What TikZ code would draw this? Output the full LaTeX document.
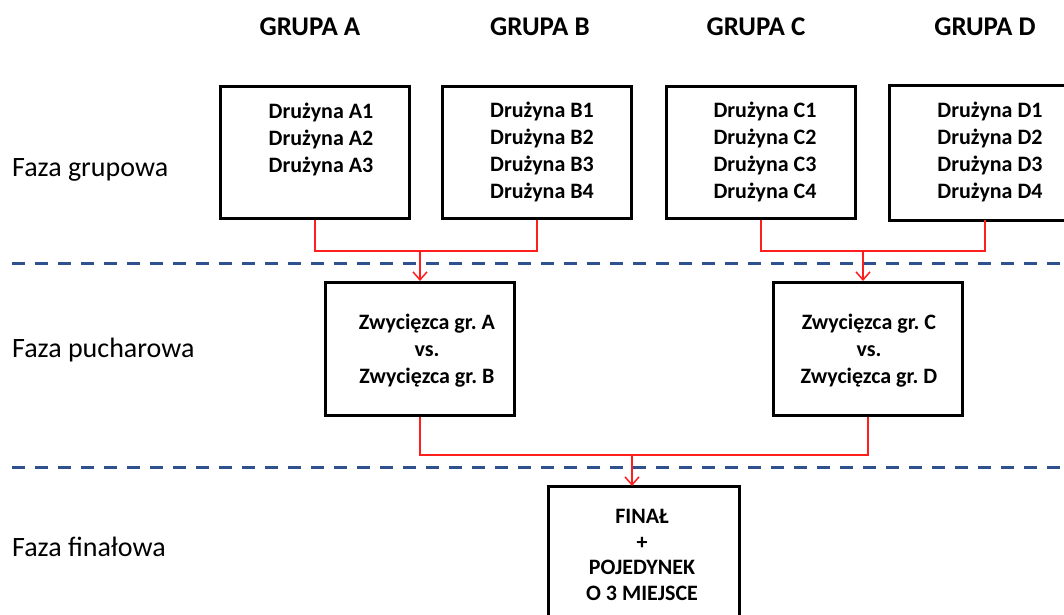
\documentclass[tikz,border=0pt]{standalone}
\usepackage{fontspec}
\setmainfont{Carlito}
\frenchspacing
\usetikzlibrary{arrows.meta}
\definecolor{dashblue}{RGB}{47,82,143}
\definecolor{linered}{RGB}{255,30,30}
\tikzset{
  box/.style={draw=black, line width=3pt, minimum width=189pt, minimum height=132pt, anchor=north west, inner sep=0pt},
  boxtext/.style={font=\bfseries\fontsize{22}{27}\selectfont, align=center, inner sep=0pt},
  header/.style={font=\bfseries\fontsize{27}{32}\selectfont, inner sep=0pt},
  phase/.style={font=\fontsize{28}{33}\selectfont, anchor=west, inner sep=0pt},
  sep/.style={draw=dashblue, line width=3pt, dash pattern=on 13pt off 10pt},
  conn/.style={draw=linered, line width=1.5pt},
  arr/.style={conn, -{Straight Barb[length=8pt,width=14pt,line width=1.5pt]}}
}
\begin{document}
\begin{tikzpicture}[x=1pt,y=-1pt]
\useasboundingbox (0,0) rectangle (1064,614);
\clip (0,0) rectangle (1064,614);
\fill[white] (0,0) rectangle (1064,614);
% headers
\node[header] (hA) at (310,27) {GRUPA A};
\node[header] (hB) at (540,27) {GRUPA B};
\node[header] (hC) at (756,27) {GRUPA C};
\node[header] (hD) at (985,27) {GRUPA D};
% phase labels
\node[phase] (p1) at (12,170) {Faza grupowa};
\node[phase] (p2) at (12,350) {Faza pucharowa};
\node[phase] (p3) at (12,547) {Faza finałowa};
% separators
\draw[sep] (12,263) -- (1064,263);
\draw[sep] (12,467) -- (1064,467);
% group boxes
\node[box] (A) at (219,85) {};
\node[box] (B) at (441,85) {};
\node[box] (C) at (665,85) {};
\node[box, draw=none] (D) at (889,85) {};
\draw[black, line width=3pt] ([xshift=20pt]D.north east) -- (D.north west) -- (D.south west) -- ([xshift=20pt]D.south east);
\node[boxtext] (tA) at (321,139) {Drużyna A1\\Drużyna A2\\Drużyna A3};
\node[boxtext] (tB) at (542,152) {Drużyna B1\\Drużyna B2\\Drużyna B3\\Drużyna B4};
\node[boxtext] (tC) at (765,152) {Drużyna C1\\Drużyna C2\\Drużyna C3\\Drużyna C4};
\node[boxtext] (tD) at (990,152) {Drużyna D1\\Drużyna D2\\Drużyna D3\\Drużyna D4};
% knockout boxes
\node[box, minimum width=189pt, minimum height=133pt] (KAB) at (324,281) {};
\node[box, minimum width=189pt, minimum height=133pt] (KCD) at (772,281) {};
\node[boxtext] (tKAB) at (427,351) {Zwycięzca gr. A\\vs.\\Zwycięzca gr. B};
\node[boxtext] (tKCD) at (869,351) {Zwycięzca gr. C\\vs.\\Zwycięzca gr. D};
% final box
\node[box, draw=none, minimum width=188pt, minimum height=150pt] (F) at (548,486) {};
\draw[black, line width=3pt] ([yshift=-20pt]F.south west) -- (F.north west) -- (F.north east) -- ([yshift=-20pt]F.south east);
\node[boxtext, font=\bfseries\fontsize{22}{25.5}\selectfont] (tF) at (642,555) {FINAŁ\\+\\POJEDYNEK\\O 3 MIEJSCE};
% connectors
\coordinate (jAB) at (420,251);
\coordinate (jCD) at (863,251);
\coordinate (jF) at (632,455);
\draw[conn] (A.south) -- (A.south |- jAB) -- (B.south |- jAB) -- (B.south);
\draw[arr] (jAB) -- (jAB |- KAB.north);
\draw[conn] (C.south) -- (C.south |- jCD) -- (D.south |- jCD) -- (D.south);
\draw[arr] (jCD) -- (jCD |- KCD.north);
\draw[conn] (KAB.south) -- (KAB.south |- jF) -- (KCD.south |- jF) -- (KCD.south);
\draw[arr] (jF) -- (jF |- F.north);
\end{tikzpicture}
\end{document}
